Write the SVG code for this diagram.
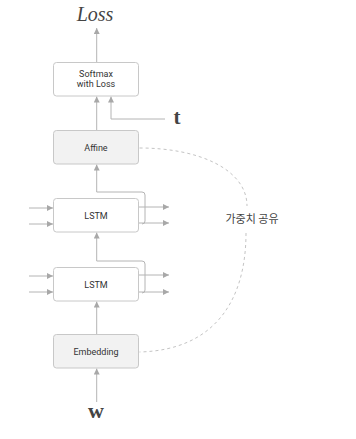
<svg xmlns="http://www.w3.org/2000/svg" width="356" height="439" viewBox="0 0 356 439">
<style>
.box{fill:#ffffff;stroke:#c8c8c8;stroke-width:1}
.gbox{fill:#f2f2f2;stroke:#c8c8c8;stroke-width:1}
.lbl{font-family:Roboto,"Liberation Sans",sans-serif;font-size:9px;fill:#333;text-anchor:middle}
.ln{fill:none;stroke:#b4b4b4;stroke-width:1}
.dash{fill:none;stroke:#c4c4c4;stroke-width:1;stroke-dasharray:3 3}
.math{font-family:"Liberation Serif",serif;fill:#444;text-anchor:middle}
</style>
<defs>
<marker id="ah" viewBox="0 0 6 6" refX="6" refY="3" markerWidth="6" markerHeight="6" markerUnits="userSpaceOnUse" orient="auto">
<path d="M0,0 L6,3 L0,6 Z" fill="#a8a8a8"/>
</marker>
</defs>
<g id="connectors">
<line class="ln" x1="96.7" y1="62" x2="96.7" y2="28" marker-end="url(#ah)"/>
<polyline class="ln" points="165,119 111,119 111,96.5" marker-end="url(#ah)"/>
<line class="ln" x1="96.7" y1="130" x2="96.7" y2="96.5" marker-end="url(#ah)"/>
<path class="ln" d="M142,224 Q145,224 145,221 L145,195 Q145,192 142,192 L96.7,192 L96.7,164.5" marker-end="url(#ah)"/>
<line class="ln" x1="29" y1="208" x2="53" y2="208" marker-end="url(#ah)"/>
<line class="ln" x1="29" y1="224" x2="53" y2="224" marker-end="url(#ah)"/>
<line class="ln" x1="139" y1="207" x2="169" y2="207" marker-end="url(#ah)"/>
<line class="ln" x1="139" y1="223" x2="169" y2="223" marker-end="url(#ah)"/>
<path class="ln" d="M142,293 Q145,293 145,290 L145,264 Q145,261 142,261 L96.7,261 L96.7,232.5" marker-end="url(#ah)"/>
<line class="ln" x1="29" y1="276" x2="53" y2="276" marker-end="url(#ah)"/>
<line class="ln" x1="29" y1="292" x2="53" y2="292" marker-end="url(#ah)"/>
<line class="ln" x1="139" y1="275" x2="169" y2="275" marker-end="url(#ah)"/>
<line class="ln" x1="139" y1="292" x2="169" y2="292" marker-end="url(#ah)"/>
<line class="ln" x1="96.7" y1="334" x2="96.7" y2="301.5" marker-end="url(#ah)"/>
<line class="ln" x1="96.7" y1="402" x2="96.7" y2="368.5" marker-end="url(#ah)"/>
<path class="dash" d="M139.5,148 C200,148 247,170 247,206"/>
<path class="dash" d="M246,233 C246,300 215,350 139.5,352"/>
</g>
<text class="math" x="95" y="21" font-size="20" font-style="italic">Loss</text>
<text class="math" x="177" y="124" font-size="21" font-weight="bold">t</text>
<text class="math" x="96" y="418" font-size="22" font-weight="bold">w</text>
<g id="softmax">
<rect class="box" x="53.5" y="62.5" width="85" height="33.5" rx="3"/>
<text class="lbl" x="96" y="77">Softmax</text>
<text class="lbl" x="96" y="86.5">with Loss</text>
</g>
<g id="affine">
<rect class="gbox" x="53.5" y="130.5" width="85" height="33.5" rx="3"/>
<text class="lbl" x="96" y="150.5">Affine</text>
</g>
<g id="lstm1">
<rect class="box" x="53.5" y="198.5" width="85" height="33.5" rx="3"/>
<text class="lbl" x="96" y="218.5">LSTM</text>
</g>
<g id="lstm2">
<rect class="box" x="53.5" y="267.5" width="85" height="33.5" rx="3"/>
<text class="lbl" x="96" y="287.5">LSTM</text>
</g>
<g id="embedding">
<rect class="gbox" x="53.5" y="334.5" width="85" height="33.5" rx="3"/>
<text class="lbl" x="96" y="354.5">Embedding</text>
</g>
<text x="252" y="223" font-family="'Noto Sans CJK KR',sans-serif" font-size="11" fill="#444" text-anchor="middle">가중치 공유</text>
</svg>
